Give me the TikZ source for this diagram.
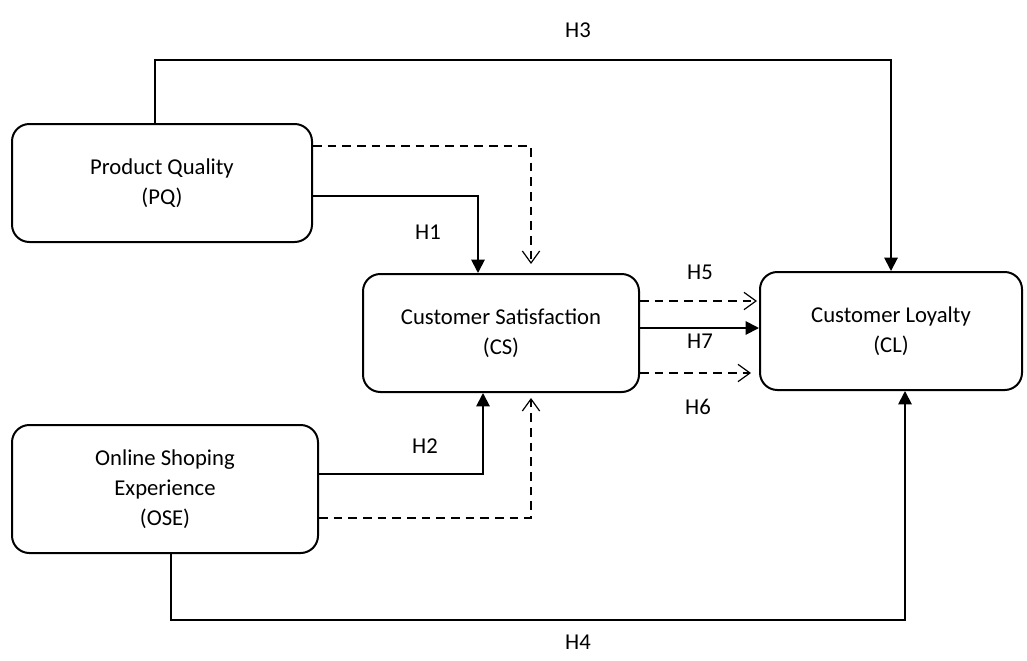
\documentclass[tikz,border=0pt]{standalone}
\usepackage{fontspec}
\setmainfont{Carlito}
\usetikzlibrary{calc,arrows.meta}
\tikzset{
    rounded-box/.style = {draw=black, fill=white, line width=1.5pt, rectangle, rounded corners=13pt, align=center, font=\fontsize{17pt}{22.5pt}\selectfont},
    hyp-label/.style = {font=\fontsize{17pt}{22.5pt}\selectfont},
    solid-arrow/.style = {line width=1.4pt, -{Triangle[length=10pt,width=10pt]}},
    dashed-arrow/.style = {line width=0.9pt, dash pattern=on 6.5pt off 4.5pt, -{Straight Barb[length=9pt,width=13pt,line width=0.9pt]}},
}
\begin{document}
\begin{tikzpicture}[x=0.75pt, y=-0.75pt]
\useasboundingbox (0,0) rectangle (1027,660);
\node [rounded-box, minimum width=225pt, minimum height=88.5pt] (pq) at (162,183) {Product Quality\\(PQ)};
\node [rounded-box, minimum width=207pt, minimum height=88.5pt] (cs) at (501,333) {Customer Satisfaction\\(CS)};
\node [rounded-box, minimum width=196.5pt, minimum height=88.5pt] (cl) at (891,331) {Customer Loyalty\\(CL)};
\node [rounded-box, minimum width=229.5pt, minimum height=96pt] (ose) at (165,489) {Online Shoping\\Experience\\(OSE)};

\coordinate (h3top) at (0,60);
\coordinate (h5) at ($(cs.east)+(0,-32)$);
\coordinate (h7) at ($(cs.east)+(0,-5)$);
\coordinate (h6) at ($(cs.east)+(0,40)$);

\draw [solid-arrow] ($(pq.north)+(-7,0)$) |- (h3top -| cl.north) -- (cl.north);
\draw [solid-arrow] ($(pq.east)+(0,13)$) -| ($(cs.north)+(-23,0)$);
\draw [dashed-arrow] ($(pq.east)+(0,-37)$) -| ($(cs.north)+(30,-9)$);
\draw [solid-arrow] ($(ose.east)+(0,-15)$) -| ($(cs.south)+(-18,0)$);
\draw [dashed-arrow] ($(ose.east)+(0,29)$) -| ($(cs.south)+(30,5)$);
\draw [solid-arrow] ($(ose.south)+(6,0)$) |- ($(cl.south)+(14,229)$) -- ($(cl.south)+(14,0)$);
\draw [dashed-arrow] (h5) -- ($(h5 -| cl.west)+(-2,0)$);
\draw [solid-arrow] (h7) -- (h7 -| cl.west);
\draw [dashed-arrow] (h6) -- ($(h6 -| cl.west)+(-8,0)$);

\node [hyp-label] (h3-label) at (578,30) {H3};
\node [hyp-label] (h1-label) at (428,232) {H1};
\node [hyp-label] (h2-label) at (425,446) {H2};
\node [hyp-label] (h5-label) at (700,272) {H5};
\node [hyp-label] (h7-label) at (700,341) {H7};
\node [hyp-label] (h6-label) at (698,407) {H6};
\node [hyp-label] (h4-label) at (578,642) {H4};
\end{tikzpicture}
\end{document}
